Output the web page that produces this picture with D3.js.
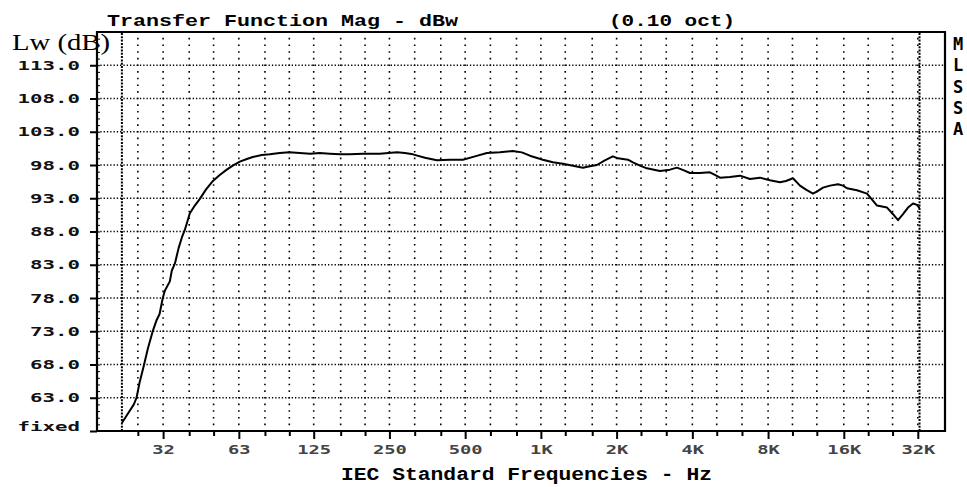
<!DOCTYPE html>
<html>
<head>
<meta charset="utf-8">
<script src="https://cdn.jsdelivr.net/npm/d3@7"></script>
<style>
  body { margin: 0; background: #fff; }
  svg { display: block; }
</style>
</head>
<body>
<svg id="chart" width="967" height="487"></svg>
<script>
// transfer function magnitude (0.10 oct smoothing)
const freqHz = [21.6, 22.8, 24.1, 24.7, 25.4, 26.4, 27.4, 28.7, 29.7, 30.5, 31.4, 32.0, 33.5, 34.1, 35.1,
  36.3, 37.4, 38.4, 40.2, 42.1, 44.1, 46.6, 49.7, 52.9, 56.4, 59.6, 63.6, 67.8, 71.6, 77.7, 83.6, 91.6,
  100, 110, 121, 132, 145, 159, 174, 196, 229, 268, 288, 310, 346, 386, 435, 490, 547, 610, 687, 774,
  840, 904, 1018, 1116, 1223, 1341, 1469, 1566, 1670, 1796, 1933, 2024, 2119, 2218, 2322, 2476, 2639,
  2973, 3258, 3474, 3704, 3913, 4287, 4698, 4920, 5150, 5645, 6185, 6778, 7428, 8140, 8920, 9424,
  10050, 10710, 11320, 12070, 12630, 13230, 14100, 15170, 15880, 16470, 18050, 19790, 20720, 21690,
  23770, 25110, 26280, 27510, 28800, 30150, 31270, 32000];
const levelDb = [59.2, 60.6, 62.0, 63.0, 65.3, 67.8, 70.4, 73.1, 74.7, 75.6, 78.0, 79.1, 80.5, 82.1, 83.2,
  85.5, 87.1, 88.2, 90.7, 91.9, 92.9, 94.3, 95.6, 96.5, 97.3, 97.9, 98.5, 98.9, 99.2, 99.5, 99.6, 99.8,
  99.9, 99.8, 99.7, 99.8, 99.7, 99.6, 99.6, 99.7, 99.7, 99.9, 99.8, 99.6, 99.1, 98.7, 98.8, 98.8, 99.3, 99.8, 99.9, 100.1,
  99.9, 99.4, 98.8, 98.4, 98.2, 97.9, 97.6, 97.8, 98.0, 98.7, 99.3, 99.0, 98.9, 98.8, 98.4, 97.9, 97.5,
  97.1, 97.3, 97.6, 97.2, 96.8, 96.8, 96.9, 96.5, 96.1, 96.2, 96.4, 95.9, 96.1, 95.7, 95.4, 95.6,
  96.0, 94.9, 94.3, 93.7, 94.1, 94.6, 94.9, 95.1, 94.9, 94.5, 94.2, 93.7, 92.8, 91.9,
  91.6, 90.6, 89.7, 90.6, 91.6, 92.2, 92.0, 91.5];

const octaveFreqs = [31.5, 63, 125, 250, 500, 1000, 2000, 4000, 8000, 16000, 31500];
const octaveLabels = ['32', '63', '125', '250', '500', '1K', '2K', '4K', '8K', '16K', '32K'];
const thirdOctaveFreqs = [25, 40, 50, 80, 100, 160, 200, 315, 400, 630, 800, 1250, 1600, 2500, 3150,
  5000, 6300, 10000, 12500, 20000, 25000];
const levelTicks = [58, 63, 68, 73, 78, 83, 88, 93, 98, 103, 108, 113];
const levelLabels = ['fixed', '63.0', '68.0', '73.0', '78.0', '83.0', '88.0', '93.0', '98.0', '103.0', '108.0', '113.0'];
const bandLimits = [21.6, 32000];

const svg = d3.select('#chart');
const pLeft = 97, pRight = 945, pTop = 32, pBottom = 431;

const x = d3.scaleLog().domain([17.2, 40400]).range([pLeft, pRight]);
const y = d3.scaleLinear().domain([58, 118]).range([pBottom, pTop]);
const dbStep = y(0) - y(1); // pixel height of 1 dB

// vertical grid: one dot per dB
const allThirds = octaveFreqs.concat(thirdOctaveFreqs);
svg.append('g')
  .selectAll('line')
  .data(allThirds)
  .enter().append('line')
  .attr('x1', d => x(d)).attr('x2', d => x(d))
  .attr('y1', pBottom).attr('y2', pTop)
  .attr('stroke', '#000')
  .attr('stroke-width', 1.6)
  .attr('stroke-dasharray', `1.6,${dbStep - 1.6}`)
  .attr('stroke-dashoffset', 0.8);

// horizontal grid
svg.append('g')
  .selectAll('line')
  .data(levelTicks.slice(1))
  .enter().append('line')
  .attr('x1', pLeft).attr('x2', pRight)
  .attr('y1', d => y(d)).attr('y2', d => y(d))
  .attr('stroke', '#000')
  .attr('stroke-width', 1.3)
  .attr('stroke-dasharray', '1.3,2');

// band limit markers (dense dotted)
svg.append('g')
  .selectAll('line')
  .data(bandLimits)
  .enter().append('line')
  .attr('x1', d => x(d)).attr('x2', d => x(d))
  .attr('y1', pBottom).attr('y2', pTop)
  .attr('stroke', '#000')
  .attr('stroke-width', 2)
  .attr('stroke-dasharray', '2,1.3');

// frame
svg.append('path')
  .attr('d', `M${pLeft},${pTop}H${pRight}V${pBottom}H${pLeft}Z`)
  .attr('fill', 'none')
  .attr('stroke', '#000')
  .attr('stroke-width', 2.2);

// y axis: major ticks outside, minor per dB inside
svg.append('g')
  .attr('transform', `translate(${pLeft},0)`)
  .call(d3.axisLeft(y).tickValues(d3.range(58, 118, 1)).tickSize(-3).tickFormat(''))
  .call(g => g.select('.domain').remove())
  .selectAll('line').attr('stroke', '#000').attr('stroke-width', 1);

const yAxis = svg.append('g')
  .attr('transform', `translate(${pLeft},0)`)
  .call(d3.axisLeft(y).tickValues(levelTicks).tickSize(7).tickPadding(10)
    .tickFormat((d, i) => levelLabels[i]));
yAxis.select('.domain').remove();
yAxis.selectAll('line').attr('stroke', '#000').attr('stroke-width', 2);
yAxis.selectAll('text')
  .attr('font-family', 'DejaVu Sans Mono, monospace')
  .attr('font-weight', 'bold')
  .attr('font-size', 13)
  .attr('fill', '#111')
  .attr('textLength', (d, i) => levelLabels[i].length * 12.5)
  .attr('lengthAdjust', 'spacingAndGlyphs')
  .attr('dy', (d, i) => i === 0 ? '-0.05em' : '0.32em');

// x axis ticks
const xMinor = svg.append('g')
  .attr('transform', `translate(0,${pBottom})`)
  .call(d3.axisBottom(x).tickValues(thirdOctaveFreqs).tickSize(5).tickFormat(''));
xMinor.select('.domain').remove();
xMinor.selectAll('line').attr('stroke', '#000').attr('stroke-width', 2);

const xAxis = svg.append('g')
  .attr('transform', `translate(0,${pBottom})`)
  .call(d3.axisBottom(x).tickValues(octaveFreqs).tickSize(8).tickPadding(6)
    .tickFormat((d, i) => octaveLabels[i]));
xAxis.select('.domain').remove();
xAxis.selectAll('line').attr('stroke', '#000').attr('stroke-width', 2);
xAxis.selectAll('text')
  .attr('font-family', 'DejaVu Sans Mono, monospace')
  .attr('font-weight', 'bold')
  .attr('font-size', 13)
  .attr('fill', '#444')
  .attr('textLength', (d, i) => octaveLabels[i].length * 11.3)
  .attr('lengthAdjust', 'spacingAndGlyphs');

// the curve
const line = d3.line()
  .x(d => x(d[0]))
  .y(d => y(d[1]));
svg.append('path')
  .datum(d3.zip(freqHz, levelDb))
  .attr('d', line)
  .attr('fill', 'none')
  .attr('stroke', '#000')
  .attr('stroke-width', 2)
  .attr('stroke-linejoin', 'round');

// titles
const monoTitle = (txt, tx, ty, len, size) => svg.append('text')
  .attr('x', tx).attr('y', ty)
  .attr('font-family', 'Liberation Mono, monospace')
  .attr('font-weight', 'bold')
  .attr('font-size', size)
  .attr('textLength', len)
  .attr('lengthAdjust', 'spacingAndGlyphs')
  .text(txt);

monoTitle('Transfer Function Mag - dBw', 107, 26, 351, 17);
monoTitle('(0.10 oct)', 609, 26, 126, 17);
monoTitle('IEC Standard Frequencies - Hz', 341, 480, 371, 19);

svg.append('text')
  .attr('x', 12).attr('y', 50)
  .attr('font-family', 'Liberation Serif, serif')
  .attr('font-size', 24)
  .attr('textLength', 98)
  .attr('lengthAdjust', 'spacingAndGlyphs')
  .text('Lw (dB)');

svg.append('g')
  .selectAll('text')
  .data('MLSSA'.split(''))
  .enter().append('text')
  .attr('x', 958)
  .attr('y', (d, i) => 50 + i * 21.3)
  .attr('text-anchor', 'middle')
  .attr('font-family', 'DejaVu Sans Mono, monospace')
  .attr('font-weight', 'bold')
  .attr('font-size', 17)
  .text(d => d);
</script>
</body>
</html>
